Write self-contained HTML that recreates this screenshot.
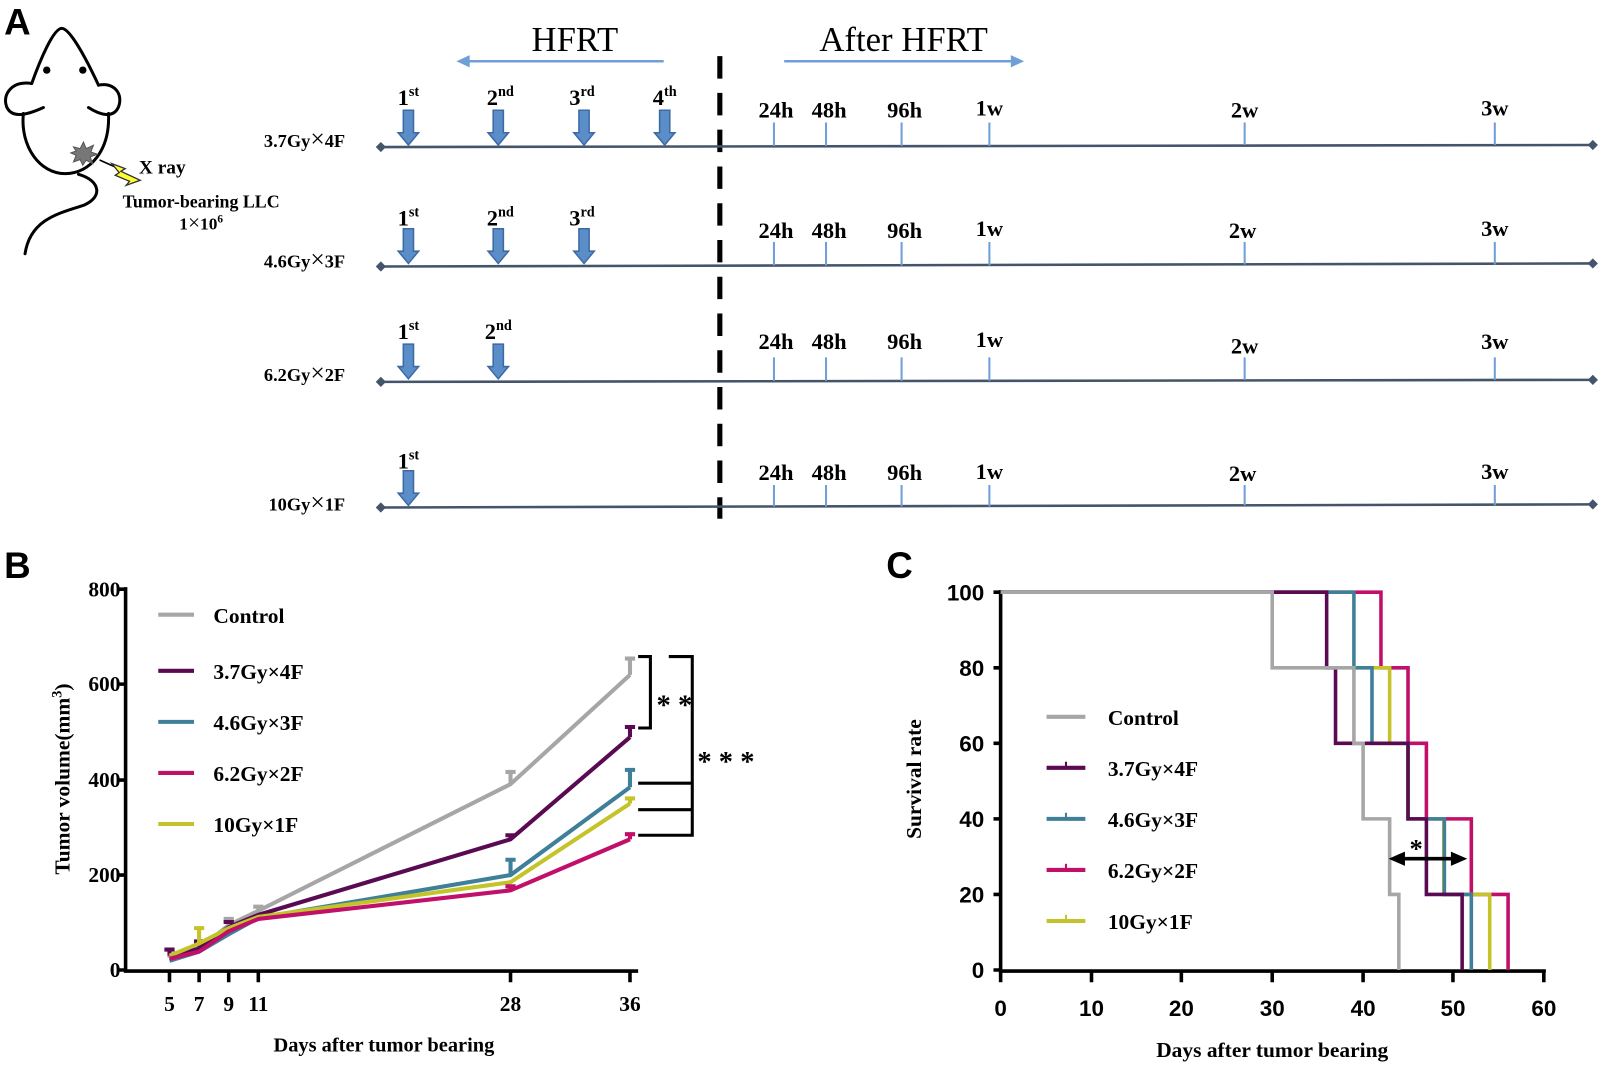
<!DOCTYPE html>
<html><head><meta charset="utf-8"><style>html,body{margin:0;padding:0;background:#fff}svg{display:block}</style></head>
<body>
<svg width="1601" height="1066" viewBox="0 0 1568 1044" xmlns="http://www.w3.org/2000/svg" font-family="Liberation Serif, serif">
<rect width="1568" height="1044" fill="#fff"/>
<!-- Panel A -->
<text x="4" y="34" font-family="Liberation Sans, sans-serif" font-weight="bold" font-size="36">A</text>
<g transform="scale(0.327)" fill="none" stroke="#000" stroke-width="9" stroke-linecap="round">
<path d="M95,250 C120,180 160,85 185,85 C210,85 260,180 295,255"/>
<path d="M95,250 C40,240 5,280 20,320 C35,355 80,345 130,322"/>
<path d="M295,255 C340,245 370,280 355,320 C340,355 300,345 265,322"/>
<path d="M70,340 C60,440 120,520 195,520 C270,520 330,450 325,340"/>
<path d="M235,522 C300,540 310,590 250,615 C170,640 90,660 75,760"/>
<circle cx="140" cy="210" r="11" fill="#000" stroke="none"/>
<circle cx="248" cy="210" r="11" fill="#000" stroke="none"/>
<polygon points="220,440 240,445 250,425 258,445 280,435 272,455 292,462 270,470 278,490 258,480 248,495 240,478 220,485 228,465 212,458 228,452" fill="#777" stroke="#555" stroke-width="3"/>
<path d="M300,480 L345,500" stroke="#000" stroke-width="5"/>
<polygon points="335,490 375,505 362,513 420,540 378,555 388,543 345,525 357,517" fill="#ffff33" stroke="#333" stroke-width="4"/>
</g>
<g font-weight="bold" fill="#000">
<text x="136" y="170" font-size="19">X ray</text>
<text x="197" y="203" font-size="17.5" text-anchor="middle">Tumor-bearing LLC</text>
<text x="197" y="225" font-size="17" text-anchor="middle">1<tspan font-size="21" font-weight="normal">×</tspan>10<tspan font-size="11" dy="-7">6</tspan></text>
</g>
<text x="563" y="50" font-size="34" text-anchor="middle">HFRT</text>
<text x="885" y="50" font-size="34" text-anchor="middle">After HFRT</text>
<g stroke="#6f9fd8" stroke-width="2.5" fill="#6f9fd8">
<line x1="458" y1="60" x2="650" y2="60"/><polygon points="447,60 460,54 460,66" stroke="none"/>
<line x1="768" y1="60" x2="992" y2="60"/><polygon points="1003,60 990,54 990,66" stroke="none"/>
</g>
<line x1="705" y1="55" x2="705" y2="508" stroke="#000" stroke-width="5" stroke-dasharray="22 14"/>
<g stroke="#44546a" stroke-width="2.5" fill="#44546a">
<line x1="373" y1="144" x2="1560" y2="142"/><line x1="373" y1="261" x2="1560" y2="258"/>
<line x1="373" y1="374" x2="1560" y2="372"/><line x1="373" y1="497" x2="1560" y2="494"/>
<g stroke="none">
<polygon points="368,144 373,139 378,144 373,149"/><polygon points="1555,142 1560,137 1565,142 1560,147"/>
<polygon points="368,261 373,256 378,261 373,266"/><polygon points="1555,258 1560,253 1565,258 1560,263"/>
<polygon points="368,374 373,369 378,374 373,379"/><polygon points="1555,372 1560,367 1565,372 1560,377"/>
<polygon points="368,497 373,492 378,497 373,502"/><polygon points="1555,494 1560,489 1565,494 1560,499"/>
</g></g>
<g font-weight="bold" font-size="18" text-anchor="end">
<text x="338" y="144">3.7Gy<tspan font-size="25" font-weight="normal">×</tspan>4F</text><text x="338" y="262">4.6Gy<tspan font-size="25" font-weight="normal">×</tspan>3F</text>
<text x="338" y="373">6.2Gy<tspan font-size="25" font-weight="normal">×</tspan>2F</text><text x="338" y="500">10Gy<tspan font-size="25" font-weight="normal">×</tspan>1F</text>
</g>
<defs>
<g id="dn"><polygon points="-5,0 5,0 5,22 10,22 0,34 -10,22 -5,22" fill="#5b8dc9" stroke="#3d6aa3" stroke-width="1.5"/></g>
</defs>
<g>
<use href="#dn" x="400" y="108"/><use href="#dn" x="488" y="108"/><use href="#dn" x="572" y="108"/><use href="#dn" x="651" y="108"/>
<use href="#dn" x="400" y="224"/><use href="#dn" x="488" y="224"/><use href="#dn" x="572" y="224"/>
<use href="#dn" x="400" y="337"/><use href="#dn" x="488" y="337"/>
<use href="#dn" x="400" y="461"/>
</g>
<g font-weight="bold" font-size="22" text-anchor="middle">
<text x="400" y="103">1<tspan font-size="14" dy="-9">st</tspan></text>
<text x="490" y="103">2<tspan font-size="14" dy="-9">nd</tspan></text>
<text x="570" y="103">3<tspan font-size="14" dy="-9">rd</tspan></text>
<text x="651" y="103">4<tspan font-size="14" dy="-9">th</tspan></text>
<text x="400" y="221">1<tspan font-size="14" dy="-9">st</tspan></text>
<text x="490" y="221">2<tspan font-size="14" dy="-9">nd</tspan></text>
<text x="570" y="221">3<tspan font-size="14" dy="-9">rd</tspan></text>
<text x="400" y="332">1<tspan font-size="14" dy="-9">st</tspan></text>
<text x="488" y="332">2<tspan font-size="14" dy="-9">nd</tspan></text>
<text x="400" y="459">1<tspan font-size="14" dy="-9">st</tspan></text>
</g>
<g stroke="#6f9fd8" stroke-width="2">
<path d="M758,120V143M809,120V143M883,120V143M969,120V143M1219,120V142M1464,120V142"/>
<path d="M758,237V260M809,237V260M883,237V260M969,237V260M1219,237V259M1464,237V259"/>
<path d="M758,350V373M809,350V373M883,350V373M969,350V373M1219,350V372M1464,350V372"/>
<path d="M758,475V496M809,475V496M883,475V496M969,475V496M1219,475V495M1464,475V495"/>
</g>
<g font-weight="bold" font-size="22" text-anchor="middle">
<text x="760" y="115">24h</text><text x="812" y="115">48h</text><text x="886" y="115">96h</text><text x="969" y="113">1w</text><text x="1219" y="115">2w</text><text x="1464" y="113">3w</text>
<text x="760" y="233">24h</text><text x="812" y="233">48h</text><text x="886" y="233">96h</text><text x="969" y="231">1w</text><text x="1217" y="233">2w</text><text x="1464" y="231">3w</text>
<text x="760" y="342">24h</text><text x="812" y="342">48h</text><text x="886" y="342">96h</text><text x="969" y="340">1w</text><text x="1219" y="346">2w</text><text x="1464" y="342">3w</text>
<text x="760" y="470">24h</text><text x="812" y="470">48h</text><text x="886" y="470">96h</text><text x="969" y="469">1w</text><text x="1217" y="471">2w</text><text x="1464" y="469">3w</text>
</g>

<!-- Panel B -->
<text x="4" y="566" font-family="Liberation Sans, sans-serif" font-weight="bold" font-size="36">B</text>
<g stroke="#000" stroke-width="3.5" fill="none">
<path d="M123,575V951H625"/>
<path d="M116,577H123M116,670H123M116,764H123M116,857H123M116,950H123"/>
<path d="M166,950V962M195,950V962M224,950V962M253,950V962M500,950V962M617,950V962"/>
</g>
<g font-weight="bold" font-size="21" text-anchor="end">
<text x="118" y="584">800</text><text x="118" y="677">600</text><text x="118" y="771">400</text><text x="118" y="864">200</text><text x="118" y="957">0</text>
</g>
<g font-weight="bold" font-size="21" text-anchor="middle">
<text x="166" y="990">5</text><text x="195" y="990">7</text><text x="224" y="990">9</text><text x="253" y="990">11</text><text x="500" y="990">28</text><text x="617" y="990">36</text>
<text x="376" y="1030" font-size="20">Days after tumor bearing</text>
</g>
<text transform="translate(68,763) rotate(-90)" font-weight="bold" font-size="21" text-anchor="middle">Tumor volume(mm<tspan font-size="14" dy="-8">3</tspan><tspan dy="8">)</tspan></text>
<g fill="none" stroke-width="4" stroke-linejoin="round">
<g stroke="#a6a6a6"><polyline points="166,938 195,929 224,906 253,892 500,768 617,661"/><path d="M166,938V932M195,929V922M224,906V900M253,892V888M500,768V756M617,661V645M495,756H505M612,645H622M219,900H229M248,888H258"/></g>
<g stroke="#5a0a52"><polyline points="166,936 195,929 224,908 253,896 500,822 617,722"/><path d="M166,936V930M161,930H171M195,929V922M190,922H200M617,722V712M612,712H622M500,822V818M495,818H505M219,903H229"/></g>
<g stroke="#3f7f99"><polyline points="166,941 195,932 224,915 253,899 500,857 617,771"/><path d="M500,857V842M495,842H505M617,771V754M612,754H622"/></g>
<g stroke="#c4c42a"><polyline points="166,936 195,924 224,909 253,898 500,864 617,787"/><path d="M195,924V909M190,909H200M617,787V782M612,782H622"/></g>
<g stroke="#c0106a"><polyline points="166,939 195,932 224,912 253,900 500,872 617,822"/><path d="M617,822V817M612,817H622M500,872V868M495,868H505"/></g>
</g>
<g stroke-width="4"><line x1="155" y1="602" x2="190" y2="602" stroke="#a6a6a6"/><line x1="155" y1="657" x2="190" y2="657" stroke="#5a0a52"/><line x1="155" y1="707" x2="190" y2="707" stroke="#3f7f99"/><line x1="155" y1="757" x2="190" y2="757" stroke="#c0106a"/><line x1="155" y1="807" x2="190" y2="807" stroke="#c4c42a"/></g>
<g font-weight="bold" font-size="21"><text x="209" y="610">Control</text><text x="209" y="665">3.7Gy×4F</text><text x="209" y="715">4.6Gy×3F</text><text x="209" y="765">6.2Gy×2F</text><text x="209" y="815">10Gy×1F</text></g>
<g stroke="#000" stroke-width="3" fill="none">
<path d="M625,643H637V713H625"/>
<path d="M655,643H678V818H625M625,767H678M625,793H678"/>
</g>
<text x="643" y="700" font-weight="bold" font-size="28">* *</text>
<text x="683" y="755" font-weight="bold" font-size="28">* * *</text>

<!-- Panel C -->
<text x="868" y="566" font-family="Liberation Sans, sans-serif" font-weight="bold" font-size="36">C</text>
<g stroke="#000" stroke-width="3.5" fill="none">
<path d="M980,578V951H1514"/>
<path d="M973,580H980M973,654H980M973,728H980M973,802H980M973,876H980M973,950H980"/>
<path d="M980,950V962M1069,950V962M1157,950V962M1246,950V962M1335,950V962M1423,950V962M1512,950V962"/>
</g>
<g font-family="Liberation Sans, sans-serif" font-weight="bold" font-size="22" text-anchor="end">
<text x="964" y="588">100</text><text x="964" y="662">80</text><text x="964" y="736">60</text><text x="964" y="810">40</text><text x="964" y="884">20</text><text x="964" y="958">0</text>
</g>
<g font-family="Liberation Sans, sans-serif" font-weight="bold" font-size="22" text-anchor="middle">
<text x="980" y="995">0</text><text x="1069" y="995">10</text><text x="1157" y="995">20</text><text x="1246" y="995">30</text><text x="1335" y="995">40</text><text x="1423" y="995">50</text><text x="1512" y="995">60</text>
</g>
<text x="1246" y="1035" font-weight="bold" font-size="21" text-anchor="middle">Days after tumor bearing</text>
<text transform="translate(902,763) rotate(-90)" font-weight="bold" font-size="21" text-anchor="middle">Survival rate</text>
<g fill="none" stroke-width="3.5">
<polyline stroke="#c0106a" points="980,580 1352.5,580 1352.5,654 1379,654 1379,728 1397,728 1397,802 1441,802 1441,876 1477,876 1477,950"/>
<polyline stroke="#c4c42a" points="1343.7,654 1361,654 1361,728 1379,728 1379,802 1414,802 1414,876 1459,876 1459,950"/>
<polyline stroke="#3f7f99" points="980,580 1326,580 1326,654 1343.7,654 1343.7,728 1379,728 1379,802 1414.6,802 1414.6,876 1441,876 1441,950"/>
<polyline stroke="#5a0a52" points="980,580 1299.3,580 1299.3,654 1308,654 1308,728 1379,728 1379,802 1397,802 1397,876 1432,876 1432,950"/>
<polyline stroke="#a6a6a6" points="980,580 1246,580 1246,654 1326,654 1326,728 1335,728 1335,802 1361,802 1361,876 1370,876 1370,950"/>
</g>
<g stroke="#000" stroke-width="3.5"><line x1="1372" y1="841" x2="1425" y2="841"/></g>
<polygon points="1360,841 1376,834 1376,848" fill="#000"/><polygon points="1437,841 1421,834 1421,848" fill="#000"/>
<text x="1387" y="840" font-weight="bold" font-size="26" text-anchor="middle">*</text>
<g stroke-width="4">
<line x1="1025" y1="702" x2="1063" y2="702" stroke="#a6a6a6"/>
<line x1="1025" y1="752" x2="1063" y2="752" stroke="#5a0a52"/><line x1="1044" y1="752" x2="1044" y2="746" stroke="#5a0a52" stroke-width="2"/>
<line x1="1025" y1="802" x2="1063" y2="802" stroke="#3f7f99"/><line x1="1044" y1="802" x2="1044" y2="796" stroke="#3f7f99" stroke-width="2"/>
<line x1="1025" y1="852" x2="1063" y2="852" stroke="#c0106a"/><line x1="1044" y1="852" x2="1044" y2="846" stroke="#c0106a" stroke-width="2"/>
<line x1="1025" y1="902" x2="1063" y2="902" stroke="#c4c42a"/><line x1="1044" y1="902" x2="1044" y2="896" stroke="#c4c42a" stroke-width="2"/>
</g>
<g font-weight="bold" font-size="21"><text x="1085" y="710">Control</text><text x="1085" y="760">3.7Gy×4F</text><text x="1085" y="810">4.6Gy×3F</text><text x="1085" y="860">6.2Gy×2F</text><text x="1085" y="910">10Gy×1F</text></g>
</svg>
</body></html>
